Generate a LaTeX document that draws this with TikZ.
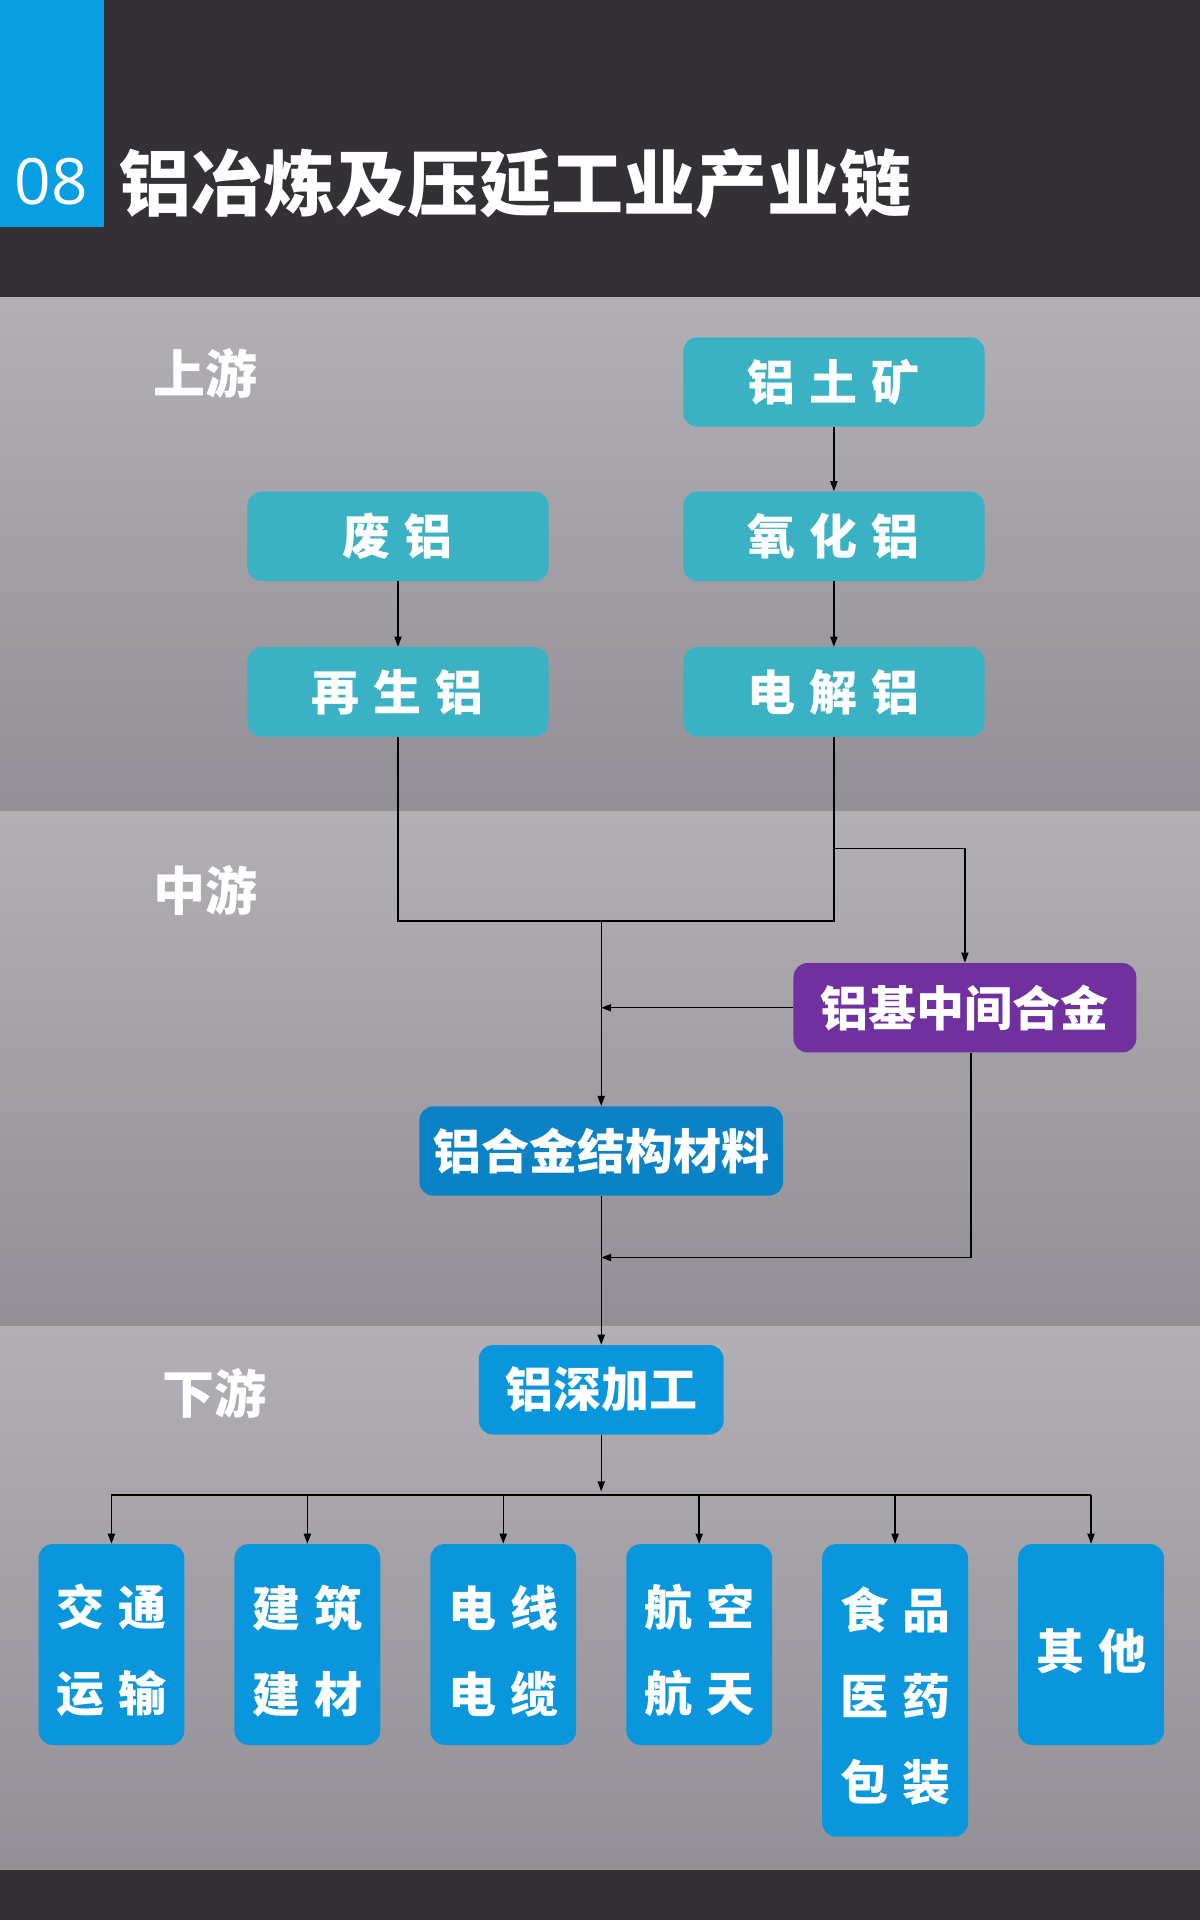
\documentclass[tikz,border=0pt]{standalone}
\usepackage{fontspec}
\newfontfamily\cjk{Noto Sans CJK SC}
\newfontfamily\numfont{Open Sans}
\usetikzlibrary{arrows.meta}
\definecolor{hdr}{RGB}{51,49,54}
\definecolor{numblue}{RGB}{8,158,226}
\definecolor{teal}{RGB}{58,178,196}
\definecolor{purp}{RGB}{112,48,160}
\definecolor{sblue}{RGB}{11,130,198}
\definecolor{dblue}{RGB}{10,150,220}
\definecolor{bandtop}{RGB}{178,176,181}
\definecolor{bandbot}{RGB}{146,144,150}
\tikzset{
  box/.style={rounded corners=7pt, text=white, inner sep=0pt, align=center,
    font=\cjk\bfseries\fontsize{24}{30}\selectfont},
  tealbox/.style={box, fill=teal, minimum width=150.6pt, minimum height=44.7pt},
  endbox/.style={box, fill=dblue, minimum width=72.9pt, minimum height=100.4pt,
    font=\cjk\bfseries\fontsize{24}{43}\selectfont},
  stagelabel/.style={text=white, font=\cjk\bfseries\fontsize{26}{30}\selectfont, inner sep=0pt},
  conn/.style={draw=black, line width=0.7pt},
  arr/.style={conn, -{Triangle[length=5pt,width=3.6pt]}}
}
\newcommand{\gapc}{\hspace{7pt}}
\newcommand{\lowr}{\rule{0pt}{27pt}}
\begin{document}
\begin{tikzpicture}[x=0.6122pt,y=-0.6122pt]
\useasboundingbox (0,0) rectangle (980,1568);
% backgrounds
\fill[hdr] (0,0) rectangle (980,243);
\shade[top color=bandtop,bottom color=bandbot] (0,243) rectangle (980,663);
\shade[top color=bandtop,bottom color=bandbot] (0,663) rectangle (980,1083);
\shade[top color=bandtop,bottom color=bandbot] (0,1083) rectangle (980,1527);
\fill[hdr] (0,1527) rectangle (980,1568);
\fill[numblue] (0,0) rectangle (85,185);
\node[text=white, font=\numfont\fontsize{32}{36}\selectfont, inner sep=0pt] (num) at (42,148) {08};
\node[anchor=west, text=white, font=\cjk\bfseries\fontsize{36}{40}\selectfont, inner sep=0pt] (title) at (97,150) {铝冶炼及压延工业产业链};
% stage labels
\node[stagelabel] (up) at (168,305) {上游};
\node[stagelabel] (mid) at (168,727) {中游};
\node[stagelabel] (down) at (175,1138) {下游};
% upstream nodes
\node[tealbox] (bauxite) at (681,312) {铝\gapc 土\gapc 矿};
\node[tealbox] (scrap) at (325,438) {废\gapc 铝};
\node[tealbox] (alumina) at (681,438) {氧\gapc 化\gapc 铝};
\node[tealbox] (recycled) at (325,565) {再\gapc 生\gapc 铝};
\node[tealbox] (electro) at (681,565) {电\gapc 解\gapc 铝};
% midstream
\node[box, fill=purp, minimum width=171.4pt, minimum height=44.7pt] (inter) at (788,823) {铝基中间合金};
\node[box, fill=sblue, minimum width=181.8pt, minimum height=44.7pt] (struct) at (491,940) {铝合金结构材料};
% downstream
\node[box, fill=dblue, minimum width=122.4pt, minimum height=44.7pt] (deep) at (491,1135) {铝深加工};
\node[endbox] (b1) at (91,1343) {\lowr 交\gapc 通\\运\gapc 输};
\node[endbox] (b2) at (251,1343) {\lowr 建\gapc 筑\\建\gapc 材};
\node[endbox] (b3) at (411,1343) {\lowr 电\gapc 线\\电\gapc 缆};
\node[endbox] (b4) at (571,1343) {\lowr 航\gapc 空\\航\gapc 天};
\node[endbox, minimum height=146.3pt] (b5) at (731,1380.5) {\lowr 食\gapc 品\\医\gapc 药\\包\gapc 装};
\node[endbox] (b6) at (891,1343) {\lowr 其\gapc 他};
% connectors
\draw[arr] (bauxite) -- (alumina);
\draw[arr] (scrap) -- (recycled);
\draw[arr] (alumina) -- (electro);
\coordinate (j1) at (491,752);
\coordinate (j2) at (681,693);
\coordinate (j3) at (491,823);
\coordinate (j4) at (491,1027);
\coordinate (j5) at (491,1218);
\coordinate (bus) at (491,1221);
\draw[conn] (recycled.south) |- (j1) -| (electro.south);
\draw[arr] (j2) -| (inter.north);
\draw[arr] (j1) -- (struct.north);
\draw[arr] (inter.west) -- (j3);
\draw[arr] ([xshift=3pt]inter.south) |- (j4);
\draw[arr] (struct) -- (deep);
\draw[arr] (deep) -- (j5);
\draw[conn] (b1.north |- bus) -- (b6.north |- bus);
\foreach \b in {b1,b2,b3,b4,b5,b6} \draw[arr] (\b.north |- bus) -- (\b.north);
\end{tikzpicture}
\end{document}
